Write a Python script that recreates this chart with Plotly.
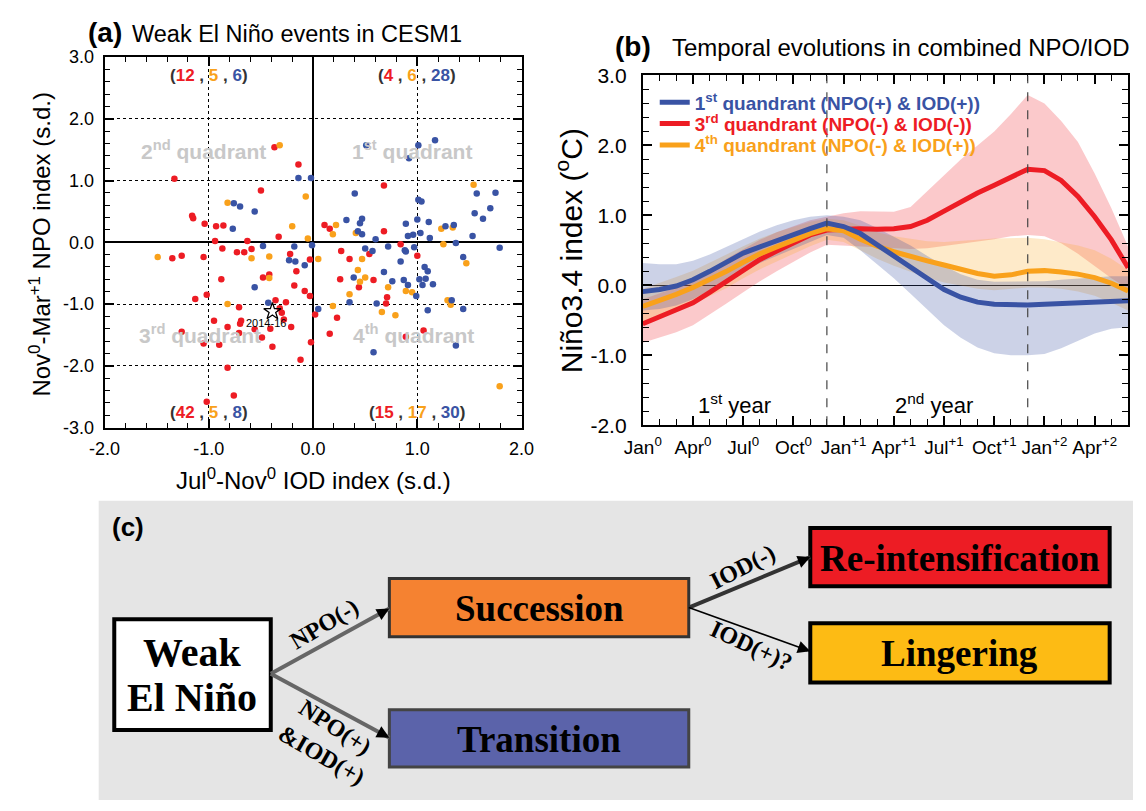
import plotly.graph_objects as go

W, H = 1146, 811
def PX(x): return x / W
def PY(y): return 1 - y / H

# ---------------- panel (a) data ----------------
red_pts = [(-1.33,1.03),(-0.37,1.54),(-0.14,1.26),(-0.50,0.84),(-1.16,0.43),(-1.15,0.39),(-1.04,0.30),(-0.93,0.26),
           (-0.86,0.27),(-0.33,0.09),(-0.94,0.02),(-0.63,0.02),
           (0.68,0.92),(0.11,0.28),(0.16,0.22),(0.68,0.18),
           (-1.35,-0.26),(-1.26,-0.22),(-1.05,-0.24),(-0.87,-0.10),(-0.73,-0.16),(-0.66,-0.16),(-0.59,-0.11),(-0.22,-0.19),
           (-0.03,-0.28),(-0.16,-0.47),(-0.88,-0.60),(-0.48,-0.57),(-0.42,-0.52),(-0.18,-0.70),(-0.08,-0.79),(-0.03,-0.87),
           (-1.02,-0.85),(-1.13,-0.92),(-0.71,-1.05),(-0.36,-0.94),(-0.26,-0.97),(-0.32,-1.07),(-0.30,-1.14),(-0.95,-1.27),
           (-0.69,-1.27),(-0.70,-1.32),(-0.82,-1.37),(-0.56,-1.41),(-0.41,-1.40),(-0.21,-1.37),(-0.71,-1.47),(-1.26,-1.45),
           (-0.49,-1.54),(-1.05,-1.64),(-0.90,-1.66),(-0.39,-1.69),(-0.02,-1.62),(-0.12,-1.90),(-0.82,-2.03),(-0.76,-2.48),
           (-1.02,-2.58),(-0.28,-1.25),
           (0.27,-0.14),(0.35,-0.27),(0.54,-0.19),(0.84,-0.03),(1.00,-0.22),(0.26,-0.60),(0.44,-0.73),(0.58,-0.61),
           (0.71,-0.89),(0.70,-0.99),(0.02,-1.17),(0.23,-1.22),(0.16,-1.48),(1.06,-1.43),(0.89,-1.53)]
orange_pts = [(-0.32,1.57),(-0.07,0.74),(-0.82,0.64),(-0.20,0.26),(-0.05,0.06),
              (1.54,0.93),(0.22,0.28),(0.19,0.13),(0.41,0.15),(1.23,0.22),(1.34,0.24),
              (-1.49,-0.24),(-0.59,-0.26),(-0.42,-0.23),(-0.42,-0.58),(-0.82,-1.00),
              (0.05,-0.27),(0.47,-0.27),(0.89,-0.79),(0.95,-0.81),(1.25,-0.03),(1.47,-0.34),(0.43,-0.45),(0.50,-0.57),
              (0.45,-0.64),(0.72,-0.73),(0.35,-0.84),(0.19,-1.03),(0.66,-1.13),(0.79,-1.18),(1.29,-0.94),(1.32,-1.01),(1.79,-2.33)]
blue_pts = [(-0.14,1.04),(-0.02,1.04),(-0.76,0.63),(-0.70,0.58),(-0.56,0.50),(-0.77,0.22),
            (0.51,1.57),(1.01,1.57),(1.17,1.65),(0.92,1.36),(1.57,0.79),(1.75,0.80),(0.40,0.79),(1.01,0.69),(1.04,0.66),
            (1.55,0.47),(1.63,0.38),(0.32,0.36),(0.47,0.38),(0.45,0.31),(0.43,0.18),(0.47,0.13),(0.89,0.30),(1.00,0.37),
            (1.11,0.33),(1.03,0.15),(0.96,0.12),(0.91,0.10),(1.27,0.26),(1.35,0.28),(1.12,0.07),(1.53,0.10),(0.60,0.05),(1.70,0.55),
            (-0.48,-0.06),(-0.18,-0.07),(-0.23,-0.29),(-0.17,-0.31),(-0.08,-0.37),(-0.56,-0.73),(-0.43,-0.98),(-0.01,-0.05),
            (0.50,-0.10),(0.57,-0.14),(0.72,-0.07),(0.88,-0.13),(0.89,-0.15),(0.97,-0.08),(0.84,-0.31),(1.07,-0.40),
            (1.10,-0.47),(1.02,-0.60),(1.08,-0.59),(1.05,-0.69),(1.15,-0.68),(0.87,-0.61),(0.91,-0.69),(0.99,-0.87),
            (1.44,-0.24),(1.79,-0.09),(0.39,-0.57),(0.68,-0.48),(0.76,-0.63),(0.35,-0.97),(0.61,-0.99),(0.05,-1.08),
            (1.33,-0.94),(1.10,-1.10),(1.44,-1.08),(0.58,-1.78),(1.37,-1.67),(1.37,-0.01)]
star_x, star_y = [-0.39], [-1.12]
star_label = "2014-16"

quad_counts = {  # quadrant: (red, orange, blue)
    "2nd": (12, 5, 6), "1st": (4, 6, 28), "3rd": (42, 5, 8), "4th": (15, 17, 30)}

a_ticks = [-2, -1, 0, 1, 2]
a_yticks = [-3, -2, -1, 0, 1, 2, 3]

# ---------------- panel (b) data ----------------
months = list(range(30))
month_tickvals = [0, 3, 6, 9, 12, 15, 18, 21, 24, 27]
month_ticktext = ["Jan<sup>0</sup>", "Apr<sup>0</sup>", "Jul<sup>0</sup>", "Oct<sup>0</sup>",
                  "Jan<sup>+1</sup>", "Apr<sup>+1</sup>", "Jul<sup>+1</sup>", "Oct<sup>+1</sup>",
                  "Jan<sup>+2</sup>", "Apr<sup>+2</sup>"]
blue_mean = [-0.09,-0.06,-0.01,0.08,0.20,0.33,0.46,0.55,0.64,0.72,0.81,0.89,0.84,0.74,0.58,0.41,0.24,0.08,-0.06,-0.17,
             -0.24,-0.27,-0.28,-0.28,-0.27,-0.26,-0.25,-0.23,-0.22,-0.22]
blue_hi = [0.32,0.30,0.30,0.35,0.44,0.55,0.67,0.77,0.86,0.93,0.98,1.00,0.98,0.93,0.82,0.70,0.57,0.42,0.28,0.16,
           0.08,0.05,0.05,0.05,0.06,0.08,0.10,0.12,0.13,0.13]
blue_lo = [-0.36,-0.34,-0.29,-0.20,-0.07,0.07,0.20,0.32,0.42,0.52,0.62,0.72,0.68,0.50,0.30,0.10,-0.12,-0.35,-0.57,-0.75,
           -0.89,-0.97,-1.00,-1.00,-0.98,-0.90,-0.80,-0.69,-0.62,-0.60]
red_mean = [-0.55,-0.45,-0.36,-0.25,-0.10,0.06,0.22,0.37,0.49,0.60,0.72,0.79,0.80,0.81,0.80,0.81,0.84,0.93,1.06,1.20,
            1.32,1.43,1.55,1.66,1.64,1.50,1.27,0.98,0.65,0.25]
red_hi = [-0.20,-0.12,-0.03,0.08,0.22,0.38,0.52,0.65,0.76,0.85,0.93,0.98,1.03,1.06,1.05,1.05,1.12,1.35,1.58,1.80,
          2.00,2.20,2.45,2.72,2.60,2.35,2.05,1.60,1.10,0.55]
red_lo = [-0.82,-0.75,-0.67,-0.57,-0.42,-0.26,-0.10,0.06,0.20,0.33,0.47,0.58,0.57,0.56,0.55,0.53,0.52,0.53,0.56,0.59,
          0.62,0.66,0.70,0.72,0.70,0.60,0.45,0.28,0.10,-0.05]
orange_mean = [-0.30,-0.22,-0.13,-0.03,0.08,0.20,0.33,0.45,0.55,0.65,0.74,0.81,0.78,0.66,0.56,0.48,0.41,0.35,0.29,0.23,
               0.17,0.13,0.15,0.20,0.21,0.19,0.16,0.11,0.03,-0.08]
orange_hi = [-0.05,0.03,0.12,0.21,0.32,0.44,0.56,0.67,0.76,0.84,0.91,0.95,0.93,0.85,0.76,0.70,0.66,0.63,0.62,0.63,
             0.65,0.67,0.68,0.68,0.66,0.62,0.57,0.50,0.38,0.22]
orange_lo = [-0.55,-0.47,-0.38,-0.27,-0.16,-0.04,0.10,0.23,0.34,0.45,0.56,0.65,0.62,0.50,0.38,0.28,0.19,0.11,0.04,-0.01,
             -0.05,-0.07,-0.05,-0.03,-0.03,-0.05,-0.09,-0.15,-0.25,-0.36]
b_yticks = [-2, -1, 0, 1, 2, 3]
legend_names = ["1<sup>st</sup> quandrant (NPO(+) &amp; IOD(+))",
                "3<sup>rd</sup> quandrant (NPO(-) &amp; IOD(-))",
                "4<sup>th</sup> quandrant (NPO(-) &amp; IOD(+))"]

RED = "#ed1c24"; ORANGE = "#f9a11b"; BLUE = "#3953a4"
SANS = "Liberation Sans, Arial, sans-serif"
SERIF = "Liberation Serif, Times New Roman, serif"

fig = go.Figure()

# ---- panel (a) scatter ----
for pts, col in [(red_pts, RED), (orange_pts, ORANGE), (blue_pts, BLUE)]:
    fig.add_trace(go.Scatter(x=[p[0] for p in pts], y=[p[1] for p in pts], mode="markers",
                             marker=dict(size=6.5, color=col), xaxis="x", yaxis="y", showlegend=False,
                             hoverinfo="skip"))
fig.add_trace(go.Scatter(x=star_x, y=star_y, mode="markers", marker=dict(symbol="star-open", size=13,
                         color="black", line=dict(width=1.3, color="black")), xaxis="x", yaxis="y",
                         showlegend=False))

# ---- panel (b) bands & lines ----
bands = [(red_lo, red_hi, "rgba(237,28,36,0.24)"), (orange_lo, orange_hi, "rgba(252,170,40,0.25)"),
         (blue_lo, blue_hi, "rgba(57,83,164,0.26)")]
for lo, hi, fc in bands:
    fig.add_trace(go.Scatter(x=months, y=lo, mode="lines", line=dict(width=0), xaxis="x2", yaxis="y2",
                             showlegend=False, hoverinfo="skip"))
    fig.add_trace(go.Scatter(x=months, y=hi, mode="lines", line=dict(width=0), fill="tonexty", fillcolor=fc,
                             xaxis="x2", yaxis="y2", showlegend=False, hoverinfo="skip"))

line_specs = [(red_mean, RED, legend_names[1], "legend2"), (orange_mean, ORANGE, legend_names[2], "legend3"),
              (blue_mean, BLUE, legend_names[0], "legend")]
for ys, col, nm, lg in line_specs:
    fig.add_trace(go.Scatter(x=months, y=ys, mode="lines", line=dict(width=5, color=col),
                             name=f"<span style='color:{col}'><b>{nm}</b></span>", legend=lg,
                             xaxis="x2", yaxis="y2"))

axis_common = dict(showline=True, linecolor="black", linewidth=2, mirror="allticks", ticks="inside",
                   tickcolor="black", tickwidth=1.5, ticklen=9)

def leg(yc):
    return dict(x=PX(654), y=PY(yc), xanchor="left", yanchor="middle", bgcolor="rgba(0,0,0,0)",
                font=dict(size=19, family=SANS), itemwidth=30)

fig.update_layout(
    width=W, height=H, margin=dict(l=0, r=0, t=0, b=0), paper_bgcolor="white", plot_bgcolor="white",
    font=dict(family=SANS, color="black"),
    xaxis=dict(domain=[PX(88), PX(517)], range=[-2, 2], anchor="y", tickvals=a_ticks,
               ticktext=[f"{v:.1f}" for v in a_ticks], tickfont=dict(size=18), ticklabelstandoff=4,
               showgrid=True, gridcolor="black", griddash="dot", gridwidth=1,
               zeroline=True, zerolinecolor="black", zerolinewidth=1.5,
               minor=dict(ticks="inside", dtick=0.2, ticklen=5, tickwidth=1, tickcolor="black", showgrid=False),
               **axis_common),
    yaxis=dict(domain=[PY(427.7), PY(46.3)], range=[-3, 3], anchor="x", tickvals=a_yticks,
               ticktext=[f"{v:.1f}" for v in a_yticks], tickfont=dict(size=18), ticklabelstandoff=5,
               showgrid=True, gridcolor="black", griddash="dot", gridwidth=1,
               zeroline=True, zerolinecolor="black", zerolinewidth=1.5,
               minor=dict(ticks="inside", dtick=0.2, ticklen=5, tickwidth=1, tickcolor="black", showgrid=False),
               **axis_common),
    xaxis2=dict(domain=[PX(641.7), PX(1141)], range=[0, 29], anchor="y2", tickvals=month_tickvals,
                ticktext=month_ticktext, tickfont=dict(size=19), ticklabelstandoff=4, showgrid=False, zeroline=False,
                minor=dict(ticks="inside", dtick=1, ticklen=6, tickwidth=1.3, tickcolor="black", showgrid=False),
                **axis_common),
    yaxis2=dict(domain=[PY(425.3), PY(65.3)], range=[-2, 3], anchor="x2", tickvals=b_yticks,
                ticktext=[f"{v:.1f}" for v in b_yticks], tickfont=dict(size=21), ticklabelstandoff=10,
                showgrid=False, zeroline=True, zerolinecolor="black", zerolinewidth=1,
                minor=dict(ticks="inside", dtick=0.2, ticklen=6, tickwidth=1.3, tickcolor="black", showgrid=False),
                **axis_common),
    legend=leg(93), legend2=leg(115), legend3=leg(137),
)

# dashed verticals in panel b (Dec0 and Dec+1)
for m in [11, 23]:
    fig.add_shape(type="line", xref="x2", yref="y2", x0=m, x1=m, y0=-2, y1=3,
                  line=dict(color="#444", width=1.2, dash="dash"))

ann = []
def A(text, x, y, size, color="black", family=SANS, angle=0, xanchor="center", yanchor="middle", **kw):
    ann.append(dict(text=text, x=PX(x), y=PY(y), xref="paper", yref="paper", showarrow=False,
                    font=dict(size=size, color=color, family=family), textangle=angle,
                    xanchor=xanchor, yanchor=yanchor, **kw))

# titles
A("<b>(a)</b>", 88, 21, 28)
A("Weak El Niño events in CESM1", 114, 23, 23.5, xanchor="left")
A("<b>(b)</b>", 632, 36, 28)
A("Temporal evolutions in combined NPO/IOD", 670, 37, 24, xanchor="left")
# axis titles panel a
A("Jul<sup>0</sup>-Nov<sup>0</sup> IOD index (s.d.)", 303, 481, 24)
A("Nov<sup>0</sup>-Mar<sup>+1</sup> NPO index (s.d.)", 22, 239, 24, angle=-90)
# axis title panel b
A("Niño3.4 index (<sup>o</sup>C)", 566, 246, 30, angle=-90)

# quadrant labels (data coords panel a)
GRAY = "#c8c8c8"
quad_pos = {"2nd": (-1.05, 1.5), "1st": (0.95, 1.5), "3rd": (-1.08, -1.49), "4th": (0.96, -1.49)}
for q, (qx, qy) in quad_pos.items():
    ann.append(dict(text=f"<b>{q[0]}<sup>{q[1:]}</sup> quadrant</b>", x=qx, y=qy, xref="x", yref="y",
                    showarrow=False, font=dict(size=21, color=GRAY, family=SANS)))
count_pos = {"2nd": (-1.0, 2.7), "1st": (1.0, 2.7), "3rd": (-1.0, -2.75), "4th": (1.0, -2.75)}
for q, (qx, qy) in count_pos.items():
    r, o, b = quad_counts[q]
    t = (f"<b><span style='color:#333'>(</span><span style='color:{RED}'>{r}</span>"
         f"<span style='color:#333'> , </span><span style='color:{ORANGE}'>{o}</span>"
         f"<span style='color:#333'> , </span><span style='color:{BLUE}'>{b}</span>"
         f"<span style='color:#333'>)</span></b>")
    ann.append(dict(text=t, x=qx, y=qy, xref="x", yref="y", showarrow=False,
                    font=dict(size=17, family=SANS)))
ann.append(dict(text=star_label, x=star_x[0] - 0.06, y=star_y[0] - 0.18, xref="x", yref="y", showarrow=False,
                font=dict(size=11, color="black", family=SANS)))

# year labels panel b
ann.append(dict(text="1<sup>st</sup> year", x=5.5, y=-1.70, xref="x2", yref="y2", showarrow=False,
                font=dict(size=22, family=SANS)))
ann.append(dict(text="2<sup>nd</sup> year", x=17.4, y=-1.70, xref="x2", yref="y2", showarrow=False,
                font=dict(size=22, family=SANS)))

# ---------------- panel (c) schematic ----------------
shapes = []
shapes.append(dict(type="rect", xref="paper", yref="paper", x0=PX(82), x1=PX(1146), y0=PY(811), y1=PY(503),
                   fillcolor="#e5e5e5", line=dict(width=0), layer="below"))
A("<b>(c)</b>", 112, 530, 26)

boxes = [  # (x0, y0, x1, y1, fill, border color, border width, text)
    (98, 625, 259, 739, "white", "black", 4, ""),
    (381, 583, 689, 643, "#f58231", "#333333", 3, "Succession"),
    (381, 718, 689, 777, "#5b63aa", "#444444", 3, "Transition"),
    (814, 531, 1122, 591, "#ed1c24", "black", 4, "Re-intensification"),
    (814, 629, 1122, 690, "#fdbb14", "black", 4, "Lingering"),
]
for x0, y0, x1, y1, fc, lc, lw, t in boxes:
    shapes.append(dict(type="rect", xref="paper", yref="paper", x0=PX(x0), x1=PX(x1), y0=PY(y1), y1=PY(y0),
                       fillcolor=fc, line=dict(color=lc, width=lw)))
    if t:
        A(f"<b>{t}</b>", (x0 + x1) / 2, (y0 + y1) / 2 + 1, 37, family=SERIF)
A("<b>Weak</b>", 178, 659, 40, family=SERIF)
A("<b>El Niño</b>", 178, 706, 40, family=SERIF)

arrows = [  # tail(x,y) -> head(x,y), color, width
    ((259, 681), (381, 614), "#666666", 4),
    ((259, 681), (381, 747), "#666666", 4),
    ((689, 613), (814, 561), "#333333", 4),
    ((689, 613), (814, 658), "black", 1.6),
]
for (tx, ty), (hx, hy), col, w in arrows:
    shapes.append(dict(type="line", xref="paper", yref="paper", x0=PX(tx), y0=PY(ty), x1=PX(hx), y1=PY(hy),
                       line=dict(color=col, width=w)))
    dx, dy = hx - tx, hy - ty
    L = (dx * dx + dy * dy) ** 0.5
    ann.append(dict(x=PX(hx), y=PY(hy), xref="paper", yref="paper", ax=-dx / L * 14, ay=-dy / L * 14,
                    axref="pixel", ayref="pixel", showarrow=True, arrowhead=2, arrowsize=1.0,
                    arrowwidth=2.5, arrowcolor="black", text=""))

A("<b>NPO(-)</b>", 314, 630, 24, family=SERIF, angle=-31)
A("<b>NPO(+)</b>", 325, 736, 24, family=SERIF, angle=33)
A("<b>&amp;IOD(+)</b>", 311, 765, 24, family=SERIF, angle=30)
A("<b>IOD(-)</b>", 744, 571, 24, family=SERIF, angle=-27)
A("<b>IOD(+)?</b>", 754, 652, 24, family=SERIF, angle=25)

fig.update_layout(annotations=ann, shapes=list(fig.layout.shapes) + shapes)

fig.write_html("out.html", config={"displayModeBar": False},
               post_script="document.body.style.margin='0';")
